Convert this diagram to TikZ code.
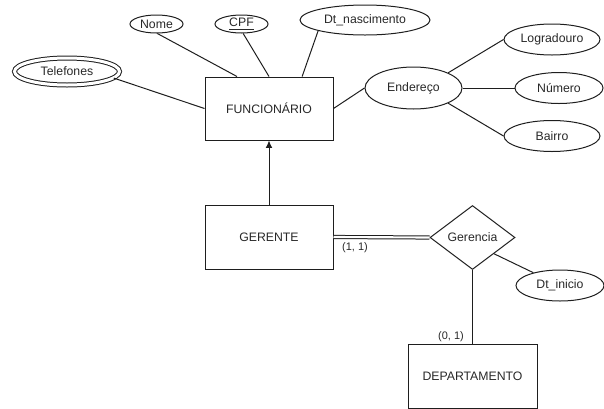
\documentclass[tikz,border=0pt]{standalone}
\usepackage{fontspec}
\setmainfont{Liberation Sans}
\usetikzlibrary{shapes.geometric,arrows.meta}
\definecolor{ink}{RGB}{30,30,30}
\definecolor{txt}{RGB}{40,40,40}
\begin{document}
\begin{tikzpicture}[x=0.75pt,y=-0.75pt,
  every node/.style={text=txt,font=\fontsize{9.2pt}{11pt}\selectfont},
  conn/.style={draw=ink,line width=0.75pt},
  entity/.style={rectangle,draw=ink,line width=0.75pt,inner sep=0pt},
  attr/.style={ellipse,draw=ink,line width=0.75pt,inner sep=0pt},
  multiattr/.style={attr,double=white,double distance=2.25pt},
  relation/.style={diamond,draw=ink,line width=0.75pt,inner sep=0pt,aspect=1.33},
  card/.style={font=\fontsize{8.2pt}{10pt}\selectfont,inner sep=0pt}]
\useasboundingbox (0,0) rectangle (604,408);

% entities
\node[entity,minimum width=96pt,minimum height=47.25pt] (func) at (269,108.5) {FUNCIONÁRIO};
\node[entity,minimum width=96pt,minimum height=48pt] (ger) at (269,237) {GERENTE};
\node[entity,minimum width=96.75pt,minimum height=48pt] (dep) at (472.5,376) {DEPARTAMENTO};

% attributes of FUNCIONARIO
\node[attr,minimum width=39.75pt,minimum height=13.5pt] (nome) at (156.5,24) {Nome};
\node[attr,minimum width=39.75pt,minimum height=13.5pt] (cpf) at (241.5,24) {\underline{CPF}};
\node[attr,minimum width=97.5pt,minimum height=22.5pt] (dtn) at (365,20) {Dt\_nascimento};
\node[multiattr,minimum width=78.75pt,minimum height=20.25pt] (tel) at (67,71.5) {Telefones};

% composite attribute
\node[attr,minimum width=72.75pt,minimum height=31.5pt] (end) at (413.5,88) {Endereço};
\node[attr,minimum width=72pt,minimum height=23.25pt] (log) at (552,39.5) {Logradouro};
\node[attr,minimum width=66pt,minimum height=23.25pt] (num) at (559,88) {Número};
\node[attr,minimum width=72pt,minimum height=23.25pt] (bai) at (552,136) {Bairro};

% relationship
\node[relation,minimum width=63.75pt,minimum height=48pt] (rel) at (472.5,237.5) {Gerencia};
\node[attr,minimum width=66pt,minimum height=23.25pt] (dti) at (560,285.5) {Dt\_inicio};

% connectors
\draw[conn] (nome.-85) -- (func.135);
\draw[conn] (cpf.-80) -- (func.north);
\draw[conn] (dtn.193) -- (func.44);
\draw[conn] (tel.-8) -- (func.west);
\draw[conn] (func.east) -- (end.west);
\draw[conn] (end.north east) -- (log.west);
\draw[conn] (end.east) -- (num.west);
\draw[conn] (end.south east) -- (bai.west);
\draw[conn,-{Latex[length=5.5pt,width=5pt]}] (ger.north) -- (func.south);
\draw[conn,double=white,double distance=1.6pt] (ger.east) -- (rel.west);
\draw[conn] (rel.south east) -- (dti);
\draw[conn] (rel.south) -- (dep.north);

% cardinalities
\node[card] (c11) at (355,248) {(1, 1)};
\node[card] (c01) at (451,337) {(0, 1)};
\end{tikzpicture}
\end{document}
